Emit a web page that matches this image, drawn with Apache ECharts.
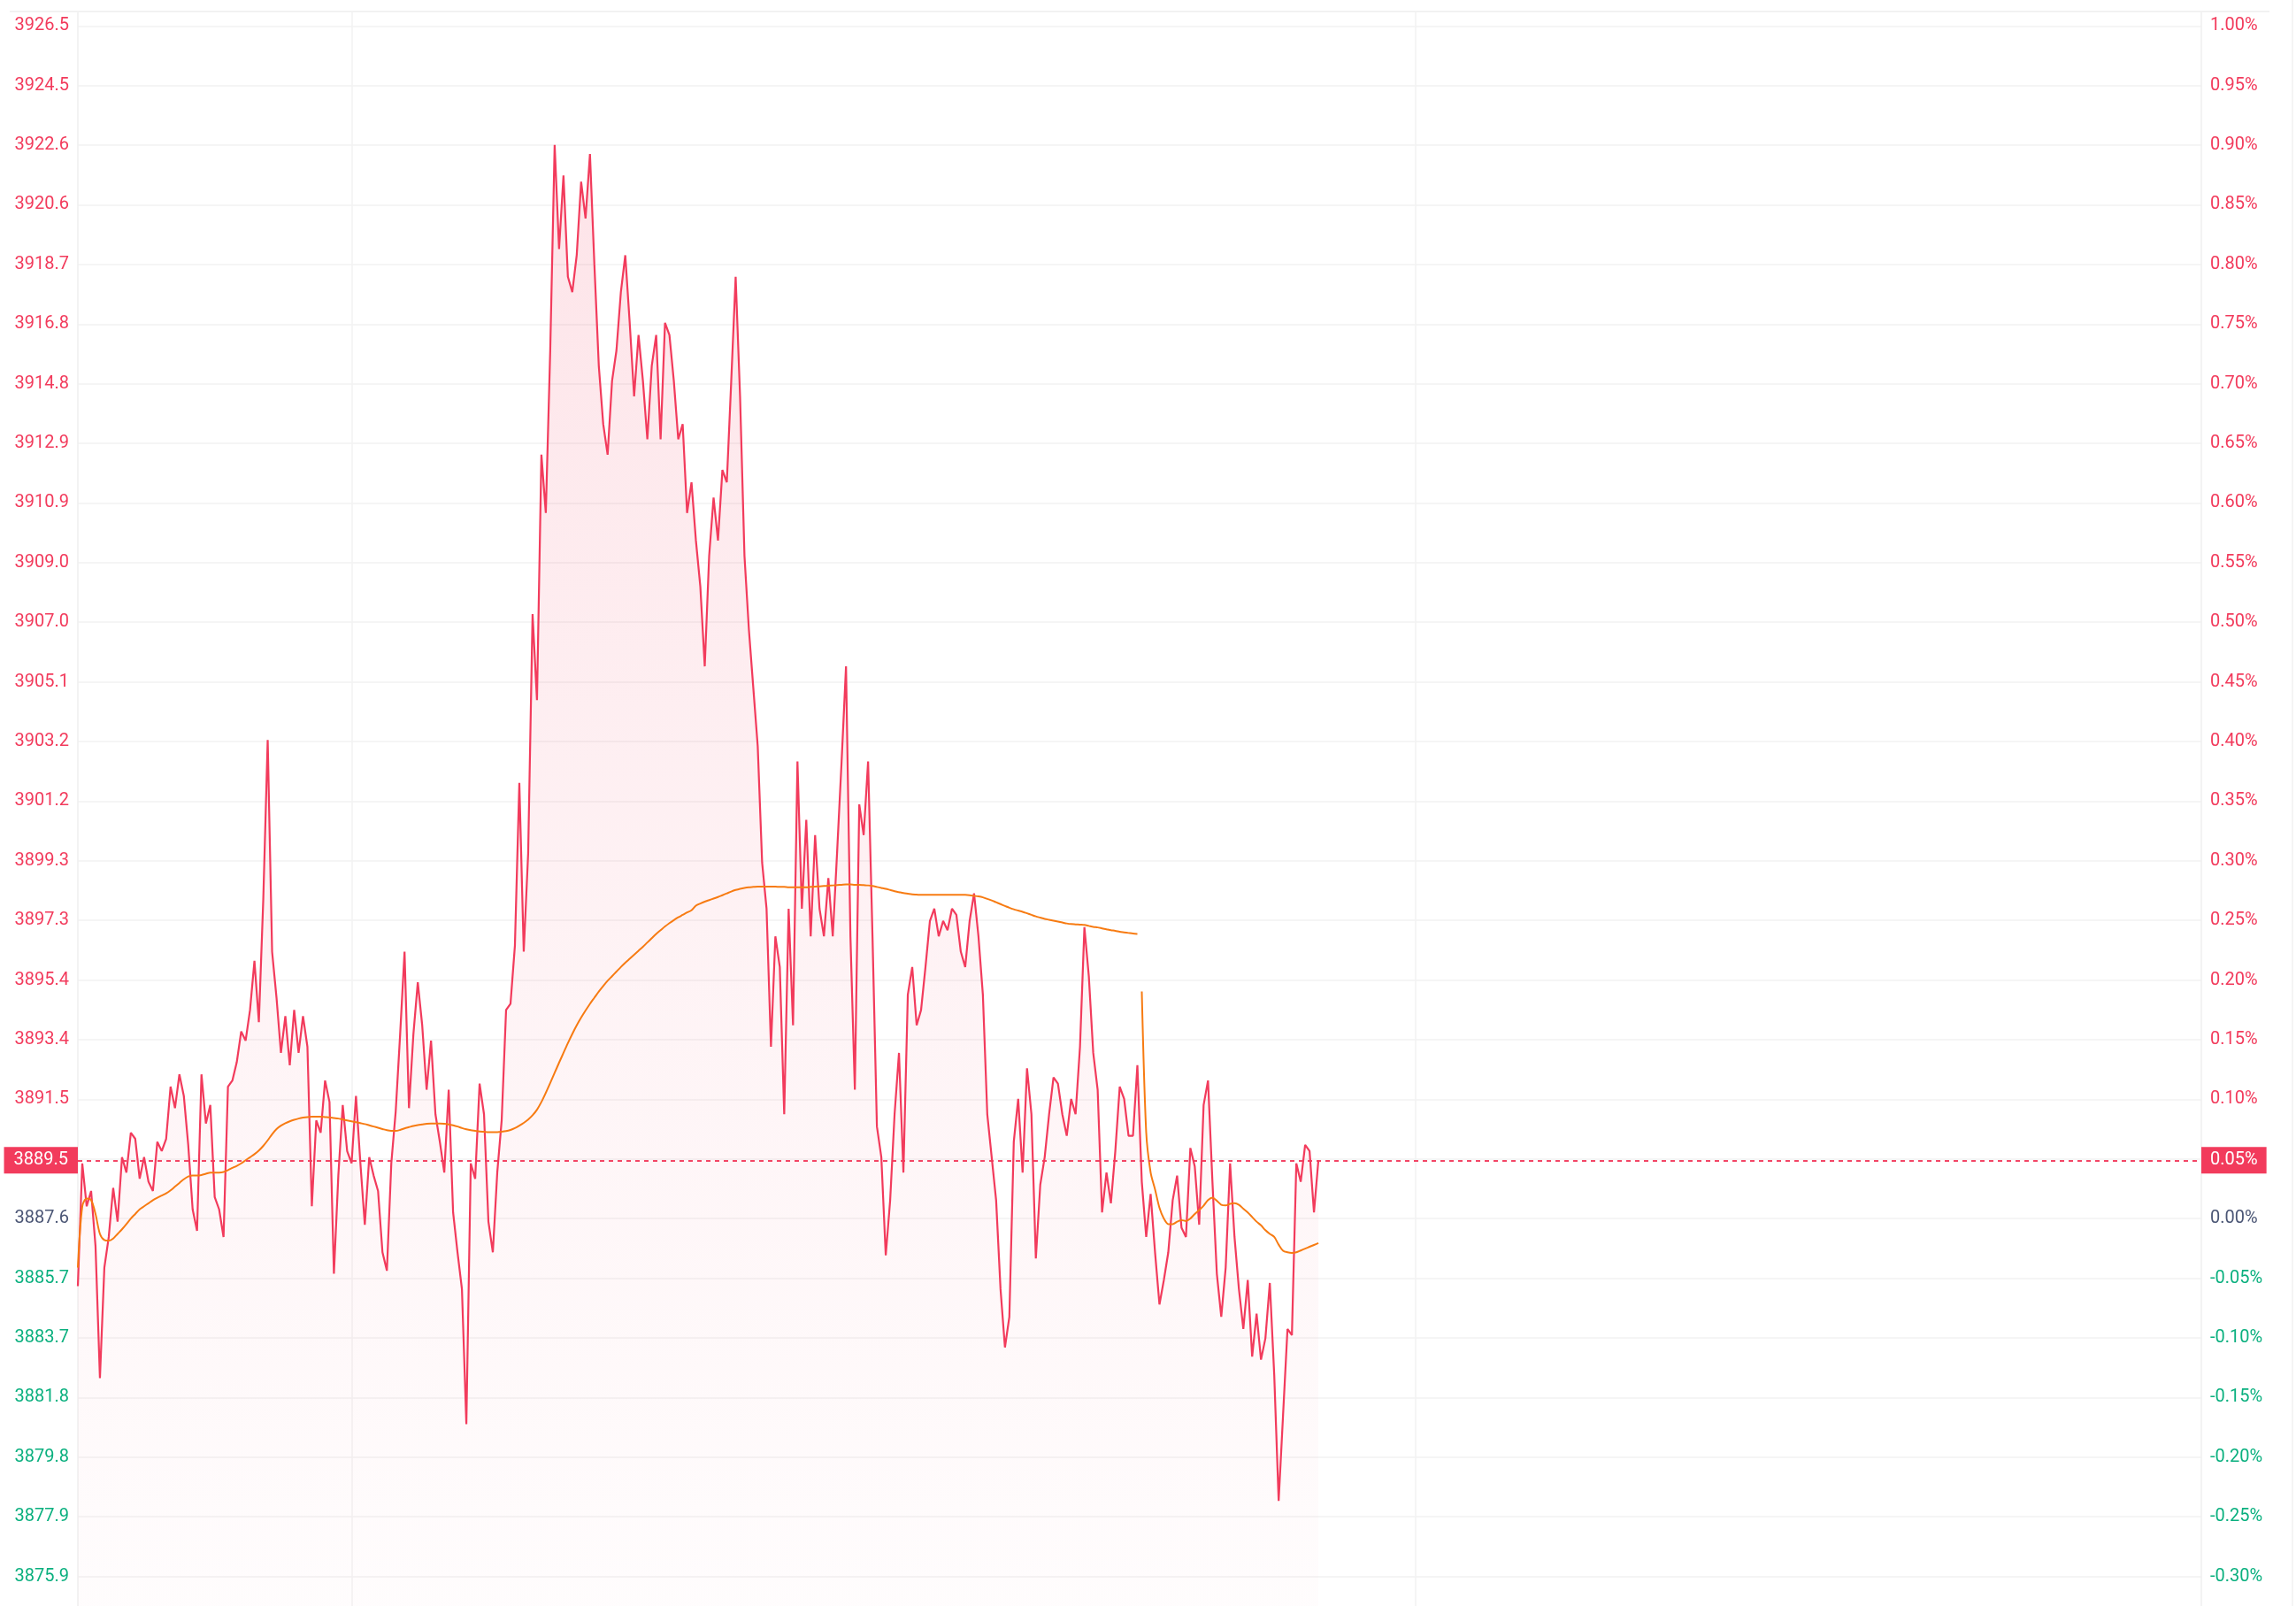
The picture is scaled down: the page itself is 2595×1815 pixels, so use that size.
<!DOCTYPE html>
<html>
<head>
<meta charset="utf-8">
<script src="https://cdn.jsdelivr.net/npm/echarts@6/dist/echarts.min.js"></script>
<style>
html,body{margin:0;padding:0;background:#ffffff;}
#chart{width:2595px;height:1815px;}
</style>
</head>
<body>
<div id="chart"></div>
<script>
// ---------- data ----------
const basePrice = 3887.6;          // previous close (0.00%)
const pctStep = 0.05;              // percent per grid step
const pctMin = -0.35;
const pctMax = 1.05;
const gridLineIdx = [62, 303];     // vertical grid lines (category index)

// session 1 price (per minute)
const day1Price = [
3885.4,3889.4,3888.0,3888.5,3886.7,3882.4,3886.0,3887.0,3888.6,3887.5,
3889.6,3889.1,3890.4,3890.2,3888.9,3889.6,3888.8,3888.5,3890.1,3889.8,
3890.2,3891.9,3891.2,3892.3,3891.6,3890.0,3887.9,3887.2,3892.3,3890.7,
3891.3,3888.3,3887.9,3887.0,3891.9,3892.1,3892.7,3893.7,3893.4,3894.4,
3896.0,3894.0,3898.0,3903.2,3896.3,3894.8,3893.0,3894.2,3892.6,3894.4,
3893.0,3894.2,3893.2,3888.0,3890.8,3890.4,3892.1,3891.4,3885.8,3889.0,
3891.3,3889.8,3889.4,3891.6,3889.4,3887.4,3889.6,3889.0,3888.5,3886.5,
3885.9,3889.4,3891.1,3893.6,3896.3,3891.2,3893.6,3895.3,3893.9,3891.8,
3893.4,3891.0,3890.1,3889.1,3891.8,3887.8,3886.5,3885.3,3880.9,3889.4,
3888.9,3892.0,3891.0,3887.5,3886.5,3889.1,3890.8,3894.4,3894.6,3896.5,
3901.8,3896.3,3899.5,3907.3,3904.5,3912.5,3910.6,3915.9,3922.6,3919.2,
3921.6,3918.3,3917.8,3919.0,3921.4,3920.2,3922.3,3918.7,3915.4,3913.5,
3912.5,3914.9,3915.9,3917.8,3919.0,3916.8,3914.4,3916.4,3914.9,3913.0,
3915.4,3916.4,3913.0,3916.8,3916.4,3914.9,3913.0,3913.5,3910.6,3911.6,
3909.7,3908.2,3905.6,3909.2,3911.1,3909.7,3912.0,3911.6,3914.9,3918.3,
3914.4,3909.2,3906.8,3904.9,3903.0,3899.2,3897.7,3893.2,3896.8,3895.8,
3891.0,3897.7,3893.9,3902.5,3897.7,3900.6,3896.8,3900.1,3897.7,3896.8,
3898.7,3896.8,3899.6,3902.5,3905.6,3896.8,3891.8,3901.1,3900.1,3902.5,
3896.8,3890.6,3889.6,3886.4,3888.2,3891.0,3893.0,3889.1,3894.9,3895.8,
3893.9,3894.4,3895.8,3897.3,3897.7,3896.8,3897.3,3897.0,3897.7,3897.5,
3896.3,3895.8,3897.3,3898.2,3896.8,3894.9,3891.0,3889.6,3888.2,3885.3,
3883.4,3884.4,3890.1,3891.5,3889.1,3892.5,3891.0,3886.3,3888.7,3889.6,
3891.0,3892.2,3892.0,3891.0,3890.3,3891.5,3891.0,3893.2,3897.1,3895.5,
3893.0,3891.8,3887.8,3889.1,3888.1,3889.8,3891.9,3891.5,3890.3,3890.3,
3892.6
];

// session 1 average price
const day1Avg = [
3886.00,3888.00,3888.25,3888.20,3887.75,3887.10,3886.90,3886.88,3886.95,3887.10,
3887.25,3887.42,3887.60,3887.75,3887.90,3888.00,3888.10,3888.20,3888.28,3888.35,
3888.42,3888.52,3888.64,3888.76,3888.88,3888.97,3889.00,3889.00,3889.02,3889.06,
3889.10,3889.10,3889.10,3889.12,3889.18,3889.25,3889.32,3889.40,3889.50,3889.60,
3889.70,3889.82,3889.97,3890.15,3890.35,3890.52,3890.63,3890.71,3890.77,3890.82,
3890.86,3890.89,3890.91,3890.92,3890.92,3890.92,3890.91,3890.90,3890.88,3890.86,
3890.83,3890.80,3890.77,3890.74,3890.71,3890.68,3890.64,3890.60,3890.56,3890.52,
3890.48,3890.46,3890.46,3890.49,3890.54,3890.58,3890.62,3890.65,3890.67,3890.69,
3890.70,3890.70,3890.70,3890.69,3890.67,3890.64,3890.60,3890.55,3890.51,3890.48,
3890.46,3890.44,3890.43,3890.42,3890.42,3890.42,3890.43,3890.45,3890.49,3890.55,
3890.63,3890.72,3890.83,3890.97,3891.15,3891.40,3891.70,3892.02,3892.35,3892.68,
3893.00,3893.32,3893.62,3893.90,3894.15,3894.38,3894.60,3894.80,3895.00,3895.18,
3895.35,3895.50,3895.65,3895.80,3895.94,3896.07,3896.20,3896.33,3896.46,3896.60,
3896.74,3896.88,3897.00,3897.12,3897.23,3897.33,3897.42,3897.50,3897.58,3897.65,
3897.80,3897.87,3897.93,3897.98,3898.03,3898.08,3898.14,3898.20,3898.26,3898.31,
3898.35,3898.38,3898.40,3898.41,3898.42,3898.42,3898.42,3898.42,3898.42,3898.41,
3898.41,3898.40,3898.40,3898.40,3898.40,3898.40,3898.41,3898.42,3898.43,3898.44,
3898.45,3898.46,3898.47,3898.48,3898.49,3898.49,3898.48,3898.48,3898.47,3898.46,
3898.44,3898.41,3898.38,3898.35,3898.31,3898.27,3898.24,3898.21,3898.19,3898.17,
3898.16,3898.15,3898.15,3898.15,3898.15,3898.15,3898.15,3898.15,3898.15,3898.15,
3898.15,3898.15,3898.14,3898.12,3898.10,3898.07,3898.02,3897.97,3897.91,3897.85,
3897.79,3897.73,3897.68,3897.64,3897.60,3897.55,3897.50,3897.45,3897.41,3897.37,
3897.34,3897.31,3897.28,3897.25,3897.22,3897.20,3897.19,3897.18,3897.17,3897.14,
3897.11,3897.09,3897.06,3897.03,3897.00,3896.98,3896.95,3896.93,3896.91,3896.89,
3896.88
];

// session 2 price
const day2Price = [
3888.8,3887.0,3888.4,3886.5,3884.8,3885.6,3886.5,3888.2,3889.0,3887.3,
3887.0,3889.9,3889.3,3887.4,3891.3,3892.1,3888.8,3885.8,3884.4,3886.0,
3889.4,3887.0,3885.3,3884.0,3885.6,3883.1,3884.5,3883.0,3883.7,3885.5,
3882.5,3878.4,3881.2,3884.0,3883.8,3889.4,3888.8,3890.0,3889.8,3887.8,
3889.5
];

// session 2 average price
const day2Avg = [
3895.00,3890.40,3889.10,3888.55,3887.95,3887.60,3887.42,3887.42,3887.50,3887.55,
3887.52,3887.60,3887.75,3887.88,3888.02,3888.20,3888.28,3888.18,3888.05,3888.03,
3888.08,3888.10,3888.05,3887.92,3887.80,3887.65,3887.50,3887.38,3887.22,3887.10,
3887.00,3886.75,3886.55,3886.50,3886.48,3886.50,3886.56,3886.62,3886.68,3886.74,
3886.80
];

// minute categories for two trading days
function pad(n){return (n<10?'0':'')+n;}
function sessionMinutes(day){
  const out=[];
  for(let m=570;m<=690;m++) out.push(day+' '+pad(Math.floor(m/60))+':'+pad(m%60));
  for(let m=781;m<=900;m++) out.push(day+' '+pad(Math.floor(m/60))+':'+pad(m%60));
  return out;
}
const times = sessionMinutes('D1').concat(sessionMinutes('D2'));

// ---------- chart ----------
const RED = '#f23b5c', GREEN = '#0bb07f', NEUTRAL = '#4b5675', ORANGE = '#f77b12';
const GRID = '#f2f2f2';
const priceSeries = day1Price.concat(day2Price);
const lastPrice = day2Price[day2Price.length-1];
const lastPct = (lastPrice/basePrice-1)*100;
const avg1 = day1Avg.slice();
const avg2 = day1Price.map(()=>null).concat(day2Avg);

function priceColor(v){
  if (v > basePrice + 0.01) return RED;
  if (v < basePrice - 0.01) return GREEN;
  return NEUTRAL;
}
function pctColor(v){
  if (v > 0.0001) return RED;
  if (v < -0.0001) return GREEN;
  return NEUTRAL;
}

const chart = echarts.init(document.getElementById('chart'), null, {renderer:'canvas'});
const option = {
  animation: false,
  backgroundColor: '#ffffff',
  grid: {left: 88, right: 107, top: -38.1, bottom: -33.9, containLabel: false, outerBoundsMode: 'none'},
  xAxis: {
    type: 'category',
    data: times,
    boundaryGap: false,
    axisLine: {show: false},
    axisTick: {show: false},
    axisLabel: {show: false},
    splitLine: {
      show: true,
      interval: function(i){ return gridLineIdx.indexOf(i) >= 0; },
      lineStyle: {color: GRID, width: 1.5}
    }
  },
  yAxis: [
    {
      type: 'value',
      position: 'left',
      min: basePrice*(1+pctMin/100),
      max: basePrice*(1+pctMax/100),
      interval: basePrice*pctStep/100,
      axisLine: {show: true, lineStyle: {color: '#efefef', width: 1.5}},
      axisTick: {show: false},
      splitLine: {show: true, lineStyle: {color: GRID, width: 1.5}},
      axisLabel: {
        showMinLabel: false, showMaxLabel: false,
        margin: 10, fontSize: 20, fontFamily: 'Roboto', padding: [7,0,0,0],
        formatter: function(v){ return Math.abs(v-lastPrice) < 0.1 ? '' : v.toFixed(1); },
        color: function(v){ return priceColor(v); }
      }
    },
    {
      type: 'value',
      position: 'right',
      min: pctMin, max: pctMax, interval: pctStep,
      axisLine: {show: true, lineStyle: {color: '#efefef', width: 1.5}},
      axisTick: {show: false},
      splitLine: {show: false},
      axisLabel: {
        showMinLabel: false, showMaxLabel: false,
        margin: 10, fontSize: 20, fontFamily: 'Roboto', padding: [7,0,0,0],
        formatter: function(v){ return Math.abs(v-lastPct) < 0.004 ? '' : v.toFixed(2)+'%'; },
        color: function(v){ return pctColor(v); }
      }
    }
  ],
  series: [
    {
      name: 'price', type: 'line', yAxisIndex: 0, data: priceSeries,
      symbol: 'none', z: 3,
      lineStyle: {color: RED, width: 2.2},
      itemStyle: {color: RED},
      areaStyle: {
        color: {type:'linear', x:0, y:0, x2:0, y2:1, colorStops:[
          {offset:0, color:'rgba(242,59,92,0.20)'},
          {offset:0.6, color:'rgba(242,59,92,0.08)'},
          {offset:1, color:'rgba(242,59,92,0.015)'}
        ]}
      },
      markLine: {
        silent: true, symbol: 'none', z: 10,
        lineStyle: {color: RED, type: [5,5], width: 1.5},
        data: [
          {yAxis: lastPrice, label: {show: true, position: 'start', distance: 0,
            formatter: lastPrice.toFixed(1), color: '#ffffff', backgroundColor: RED,
            padding: [6,11,4,11], fontSize: 20, fontFamily: 'Roboto'}},
          {yAxis: lastPrice, label: {show: true, position: 'end', distance: 0,
            formatter: lastPct.toFixed(2)+'%', color: '#ffffff', backgroundColor: RED,
            padding: [6,10,4,10], fontSize: 20, fontFamily: 'Roboto'}}
        ]
      }
    },
    {
      name: 'avg1', type: 'line', yAxisIndex: 0, data: avg1,
      symbol: 'none', z: 4, smooth: 0.3,
      lineStyle: {color: ORANGE, width: 2}, itemStyle: {color: ORANGE}
    },
    {
      name: 'avg2', type: 'line', yAxisIndex: 0, data: avg2,
      symbol: 'none', z: 4, smooth: 0.3,
      lineStyle: {color: ORANGE, width: 2}, itemStyle: {color: ORANGE}
    }
  ],
  graphic: [
    {type: 'rect', z: 100, shape: {x: 0, y: 0, width: 2595, height: 14}, style: {fill: '#ffffff'}},
    {type: 'line', z: 101, shape: {x1: 11, y1: 13, x2: 2565, y2: 13}, style: {stroke: '#eeeeee', lineWidth: 1.5}},
    {type: 'line', z: 101, shape: {x1: 2591, y1: 0, x2: 2591, y2: 1815}, style: {stroke: '#f0f0f0', lineWidth: 1.5}}
  ]
};
chart.setOption(option);
</script>
</body>
</html>
